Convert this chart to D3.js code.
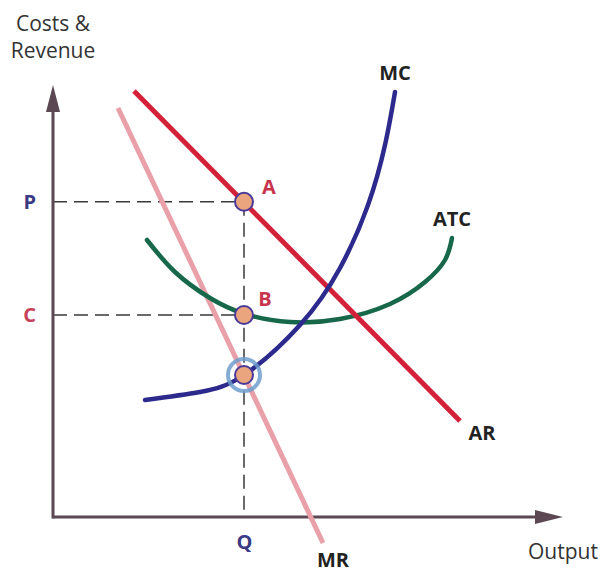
<!DOCTYPE html>
<html>
<head>
<meta charset="utf-8">
<script src="https://cdn.jsdelivr.net/npm/d3@7"></script>
<style>
  body { margin: 0; background: #fff; }
  svg text { font-family: "Open Sans", "DejaVu Sans", sans-serif; }
</style>
</head>
<body>
<div id="chart"></div>
<script>
// Values in abstract units (0-100 on each axis)
const priceTicks = [{ name: 'P', v: 78.8, color: '#3b3a85' }, { name: 'C', v: 50.5, color: '#c8415a' }];
const outputTicks = [{ name: 'Q', u: 38.2, color: '#3b3a85' }];

const arLine = [[16.2, 106.5], [81.4, 24]];
const mrLine = [[13, 102.25], [54, -6.5]];

const mcCurve = [
  [18.4, 29.25], [29.4, 31.25], [38.2, 35.5], [49.4, 48], [57.4, 62.25],
  [63, 78], [66.4, 93], [68.4, 106.25]
];
const atcCurve = [
  [18.8, 69.25], [24.4, 61.25], [31.4, 54.75], [38.4, 50.75], [47.4, 48.75],
  [57.4, 49.5], [67.4, 53.25], [74.4, 58.75], [78.4, 64.25], [79.8, 69.75]
];

const points = [
  { name: 'A', u: 38.2, v: 78.8, ring: false },
  { name: 'B', u: 38.2, v: 50.5, ring: false },
  { name: '', u: 38.2, v: 35.5, ring: true }
];

const W = 604, H = 571;
const x = d3.scaleLinear().domain([0, 100]).range([53, 553]);
const y = d3.scaleLinear().domain([0, 100]).range([517, 117]);

const svg = d3.select('#chart').append('svg').attr('width', W).attr('height', H);

const axisColor = '#5b4852';

// dashed guides
const dash = svg.append('g').attr('stroke', '#3a3a3a').attr('stroke-width', 1.5)
  .attr('stroke-dasharray', '14,7').attr('fill', 'none');
priceTicks.forEach(t => {
  dash.append('line').attr('x1', x(0)).attr('x2', x(outputTicks[0].u))
    .attr('y1', y(t.v)).attr('y2', y(t.v));
});
dash.append('line').attr('x1', x(outputTicks[0].u)).attr('x2', x(outputTicks[0].u))
  .attr('y1', y(priceTicks[0].v)).attr('y2', y(0));

// axes
svg.append('line').attr('x1', x(0)).attr('x2', x(0)).attr('y1', y(0) + 1.5).attr('y2', 100)
  .attr('stroke', axisColor).attr('stroke-width', 3);
svg.append('path').attr('d', `M${x(0)},85 L${x(0) - 7},112 L${x(0) + 7},112 Z`).attr('fill', axisColor);
svg.append('line').attr('x1', x(0)).attr('x2', 545).attr('y1', y(0)).attr('y2', y(0))
  .attr('stroke', axisColor).attr('stroke-width', 3);
svg.append('path').attr('d', `M563,${y(0)} L535,${y(0) - 7} L535,${y(0) + 7} Z`).attr('fill', axisColor);

// tick labels via d3 axes
const yAxis = svg.append('g').attr('transform', `translate(${x(0) - 14},0)`)
  .call(d3.axisLeft(y).tickValues(priceTicks.map(d => d.v)).tickSize(0)
    .tickFormat((d, i) => priceTicks[i].name));
yAxis.select('.domain').remove();
yAxis.selectAll('text').attr('font-size', 20).attr('font-weight', 'bold')
  .attr('fill', (d, i) => priceTicks[i].color).attr('font-family', '"Open Sans", sans-serif');

const xAxis = svg.append('g').attr('transform', `translate(0,${y(0) + 15})`)
  .call(d3.axisBottom(x).tickValues(outputTicks.map(d => d.u)).tickSize(0)
    .tickFormat((d, i) => outputTicks[i].name));
xAxis.select('.domain').remove();
xAxis.selectAll('text').attr('font-size', 20).attr('font-weight', 'bold')
  .attr('fill', (d, i) => outputTicks[i].color).attr('font-family', '"Open Sans", sans-serif');

// curves
const straight = d3.line().x(d => x(d[0])).y(d => y(d[1]));
const smooth = d3.line().x(d => x(d[0])).y(d => y(d[1])).curve(d3.curveNatural);

svg.append('path').attr('d', straight(mrLine)).attr('stroke', '#e9a0a8')
  .attr('stroke-width', 5).attr('fill', 'none');
svg.append('path').attr('d', smooth(atcCurve)).attr('stroke', '#17684a')
  .attr('stroke-width', 4.5).attr('fill', 'none').attr('stroke-linecap', 'round');
svg.append('path').attr('d', straight(arLine)).attr('stroke', '#d4213a')
  .attr('stroke-width', 5).attr('fill', 'none');
svg.append('path').attr('d', smooth(mcCurve)).attr('stroke', '#2d2a8e')
  .attr('stroke-width', 4.5).attr('fill', 'none').attr('stroke-linecap', 'round');

// points
points.forEach(p => {
  if (p.ring) {
    svg.append('circle').attr('cx', x(p.u)).attr('cy', y(p.v)).attr('r', 16)
      .attr('fill', 'none').attr('stroke', '#6f9dcc').attr('stroke-width', 4).attr('opacity', 0.85);
  }
  svg.append('circle').attr('cx', x(p.u)).attr('cy', y(p.v)).attr('r', 9)
    .attr('fill', '#eaa57f').attr('stroke', '#4a3a98').attr('stroke-width', 2);
});

// labels
const labels = [
  { t: 'Costs &', x: 53, y: 23, size: 21, w: 'normal', c: '#333' },
  { t: 'Revenue', x: 53, y: 50, size: 21, w: 'normal', c: '#333' },
  { t: 'A', x: 269, y: 186, size: 20, w: 'bold', c: '#c8344c' },
  { t: 'B', x: 265, y: 298, size: 20, w: 'bold', c: '#c8344c' },
  { t: 'MC', x: 395, y: 72, size: 20, w: 'bold', c: '#222' },
  { t: 'ATC', x: 452, y: 218, size: 20, w: 'bold', c: '#222' },
  { t: 'AR', x: 482, y: 432, size: 20, w: 'bold', c: '#222' },
  { t: 'MR', x: 333, y: 559, size: 20, w: 'bold', c: '#222' },
  { t: 'Output', x: 563, y: 551, size: 21, w: 'normal', c: '#333' }
];
svg.selectAll('text.lbl').data(labels).join('text').attr('class', 'lbl')
  .attr('x', d => d.x).attr('y', d => d.y).attr('text-anchor', 'middle')
  .attr('dominant-baseline', 'central').attr('font-size', d => d.size)
  .attr('font-weight', d => d.w).attr('fill', d => d.c).text(d => d.t);
</script>
</body>
</html>
